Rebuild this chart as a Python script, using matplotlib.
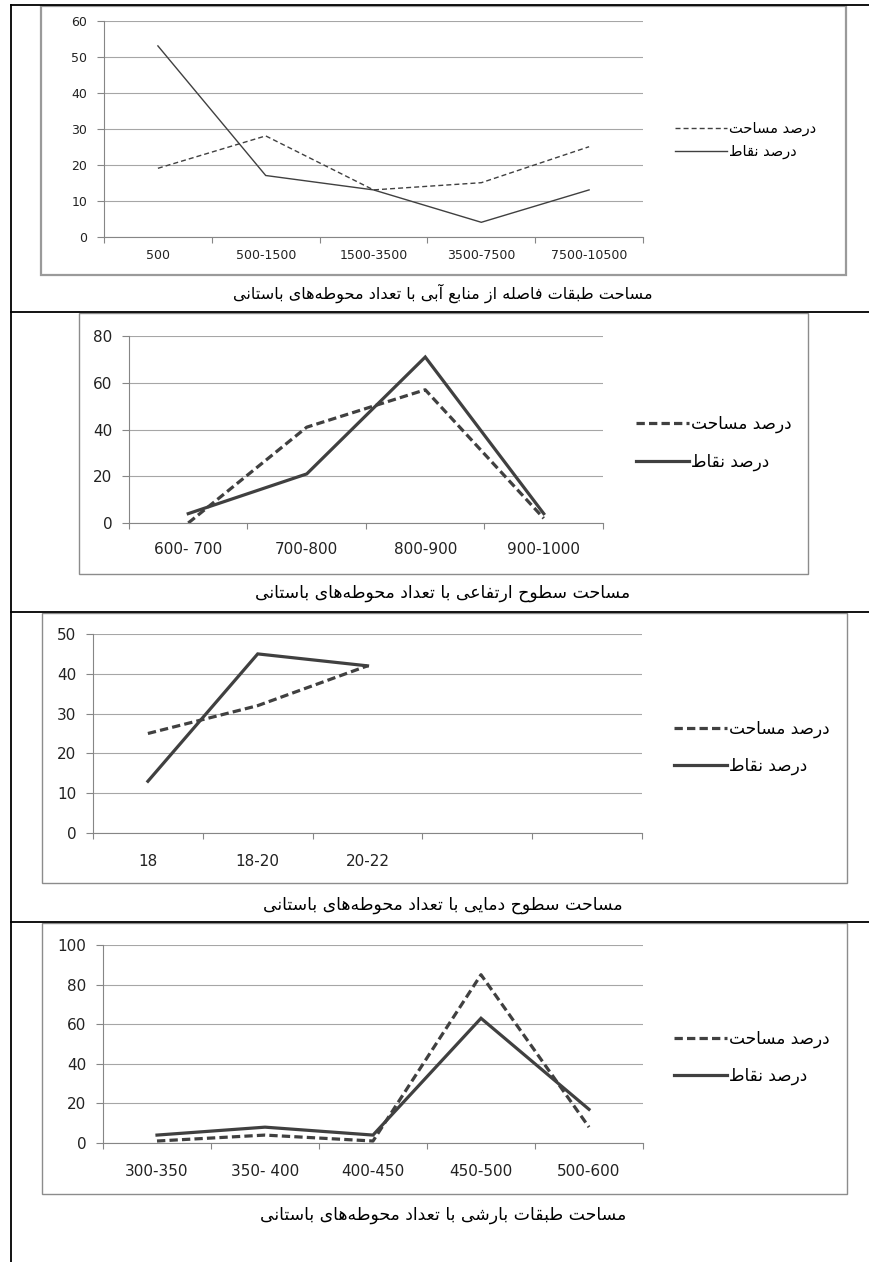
import matplotlib
matplotlib.use('Agg')
import matplotlib.pyplot as plt
from matplotlib.patches import Rectangle
from matplotlib.lines import Line2D

plt.rcParams['font.family'] = ['DejaVu Sans']
plt.rcParams['lines.scale_dashes'] = False

# data
water_cats = ['500', '500-1500', '1500-3500', '3500-7500', '7500-10500']
water_area = [19, 28, 13, 15, 25]
water_points = [53, 17, 13, 4, 13]

elev_cats = ['600- 700', '700-800', '800-900', '900-1000']
elev_area = [0, 41, 57, 2]
elev_points = [4, 21, 71, 4]

temp_cats = ['18', '18-20', '20-22', '', '']
temp_area = [25, 32, 42]
temp_points = [13, 45, 42]

rain_cats = ['300-350', '350- 400', '400-450', '450-500', '500-600']
rain_area = [1, 4, 1, 85, 8]
rain_points = [4, 8, 4, 63, 17]

label_area = 'درصد مساحت'
label_points = 'درصد نقاط'

captions = [
    'مساحت طبقات فاصله از منابع آبی با تعداد محوطه‌های باستانی',
    'مساحت سطوح ارتفاعی با تعداد محوطه‌های باستانی',
    'مساحت سطوح دمایی با تعداد محوطه‌های باستانی',
    'مساحت طبقات بارشی با تعداد محوطه‌های باستانی',
]

# simple arabic/persian shaping (matplotlib has no shaping / bidi)
FORMS = {
    0x0622: (0xFE81, 0xFE82, None, None),
    0x0627: (0xFE8D, 0xFE8E, None, None),
    0x0628: (0xFE8F, 0xFE90, 0xFE91, 0xFE92),
    0x062A: (0xFE95, 0xFE96, 0xFE97, 0xFE98),
    0x062D: (0xFEA1, 0xFEA2, 0xFEA3, 0xFEA4),
    0x062F: (0xFEA9, 0xFEAA, None, None),
    0x0631: (0xFEAD, 0xFEAE, None, None),
    0x0632: (0xFEAF, 0xFEB0, None, None),
    0x0633: (0xFEB1, 0xFEB2, 0xFEB3, 0xFEB4),
    0x0634: (0xFEB5, 0xFEB6, 0xFEB7, 0xFEB8),
    0x0635: (0xFEB9, 0xFEBA, 0xFEBB, 0xFEBC),
    0x0637: (0xFEC1, 0xFEC2, 0xFEC3, 0xFEC4),
    0x0639: (0xFEC9, 0xFECA, 0xFECB, 0xFECC),
    0x0641: (0xFED1, 0xFED2, 0xFED3, 0xFED4),
    0x0642: (0xFED5, 0xFED6, 0xFED7, 0xFED8),
    0x0644: (0xFEDD, 0xFEDE, 0xFEDF, 0xFEE0),
    0x0645: (0xFEE1, 0xFEE2, 0xFEE3, 0xFEE4),
    0x0646: (0xFEE5, 0xFEE6, 0xFEE7, 0xFEE8),
    0x0647: (0xFEE9, 0xFEEA, 0xFEEB, 0xFEEC),
    0x0648: (0xFEED, 0xFEEE, None, None),
    0x06CC: (0xFBFC, 0xFBFD, 0xFBFE, 0xFBFF),
}
FORMS[0x064A] = FORMS[0x06CC]


def shape(text):
    chars = [ord(c) for c in text]
    out = []
    for i, c in enumerate(chars):
        if c == 0x200C:
            continue
        f = FORMS.get(c)
        if f is None:
            out.append(chr(c))
            continue
        prev = FORMS.get(chars[i - 1]) if i > 0 else None
        nxt = FORMS.get(chars[i + 1]) if i + 1 < len(chars) else None
        jp = prev is not None and prev[2] is not None
        jn = nxt is not None and f[2] is not None
        if jp and jn:
            g = f[3]
        elif jp:
            g = f[1]
        elif jn:
            g = f[2]
        else:
            g = f[0]
        out.append(chr(g))
    return ''.join(reversed(out))


W, H = 870, 1262
fig = plt.figure(figsize=(8.7, 12.62), dpi=100)

LINE = '#404040'
GRID = '#a6a6a6'
AXC = '#868686'


def fx(x):
    return x / W


def fy(y):
    return 1 - y / H


def panel(box, cats, area, points, ymax, ystep, thin, fs, ypad, xpad,
          leg_xy, leg_fs, leg_hl, leg_sp):
    x0, y0, x1, y1 = box
    ax = fig.add_axes([fx(x0), fy(y1), (x1 - x0) / W, (y1 - y0) / H])
    n = len(cats)
    if thin:
        lw, dash = 1.0, (0, (3.6, 2.2))
    else:
        lw, dash = 2.3, (0, (6.0, 3.0))
    xa = [i + 0.5 for i in range(len(area))]
    xp = [i + 0.5 for i in range(len(points))]
    ax.plot(xa, area, color=LINE, lw=lw, linestyle=dash, clip_on=False,
            label=shape(label_area), solid_joinstyle='miter')
    ax.plot(xp, points, color=LINE, lw=lw, clip_on=False,
            label=shape(label_points), solid_joinstyle='miter')
    ax.set_xlim(0, n)
    ax.set_ylim(0, ymax)
    ax.set_yticks(range(0, ymax + 1, ystep))
    ax.set_xticks(range(0, n + 1))
    ax.set_xticklabels([])
    ax.set_xticks([i + 0.5 for i in range(n)], minor=True)
    ax.set_xticklabels(cats, minor=True)
    ax.tick_params(axis='x', which='major', direction='out', length=4.5,
                   width=0.8, color=AXC)
    ax.tick_params(axis='x', which='minor', length=0, pad=xpad,
                   labelsize=fs, labelcolor='#222222')
    ax.tick_params(axis='y', direction='out', length=5, width=0.8,
                   color=AXC, pad=ypad, labelsize=fs, labelcolor='#222222')
    for s in ('top', 'right'):
        ax.spines[s].set_visible(False)
    for s in ('left', 'bottom'):
        ax.spines[s].set_color(AXC)
        ax.spines[s].set_linewidth(0.8)
    ax.yaxis.grid(True, color=GRID, lw=0.8)
    ax.set_axisbelow(True)
    ax.patch.set_alpha(0)
    ax.legend(loc='center left', bbox_to_anchor=(fx(leg_xy[0]), fy(leg_xy[1])),
              bbox_transform=fig.transFigure, frameon=False, borderpad=0,
              borderaxespad=0, handlelength=leg_hl, handletextpad=0.1,
              labelspacing=leg_sp, fontsize=leg_fs)
    return ax


panel((104, 20.7, 643, 236.7), water_cats, water_area, water_points, 60, 10,
      True, 9, 7, 9, (675, 140), 10.5, 3.6, 0.5)
panel((129, 336, 603, 523), elev_cats, elev_area, elev_points, 80, 20,
      False, 11, 7, 14, (636, 443), 12.2, 3.15, 1.15)
panel((93, 634, 642, 833), temp_cats, temp_area, temp_points, 50, 10,
      False, 11, 7, 15, (674, 747.5), 12.2, 3.15, 1.1)
panel((103, 945, 643, 1143), rain_cats, rain_area, rain_points, 100, 20,
      False, 11, 7, 15, (674, 1057.5), 12.2, 3.15, 1.1)

# chart frames
frames = [(41, 6, 846, 275, 1.6, '#9a9a9a'), (79, 313, 808, 574, 1.0, '#8c8c8c'),
          (42, 613, 847, 883, 1.0, '#8c8c8c'), (42, 923, 847, 1194, 1.0, '#8c8c8c')]
for x0, y0, x1, y1, lw, c in frames:
    fig.patches.append(Rectangle((fx(x0), fy(y1)), (x1 - x0) / W, (y1 - y0) / H,
                                 transform=fig.transFigure, fill=False,
                                 edgecolor=c, lw=lw))

# table lines
fig.add_artist(Line2D([fx(11), fx(11)], [fy(5), fy(1262)], color='black', lw=1.3))
for yy in (5, 312, 612, 922):
    fig.add_artist(Line2D([fx(11), fx(870)], [fy(yy), fy(yy)], color='black', lw=1.3))

# captions
cap_y = [293, 593, 905, 1215]
cap_fs = [11.6, 12.4, 12.4, 12.4]
for txt, yy, sz in zip(captions, cap_y, cap_fs):
    fig.text(fx(443), fy(yy), shape(txt), ha='center', va='center',
             fontsize=sz, color='black')

fig.savefig('out.png', dpi=100)
